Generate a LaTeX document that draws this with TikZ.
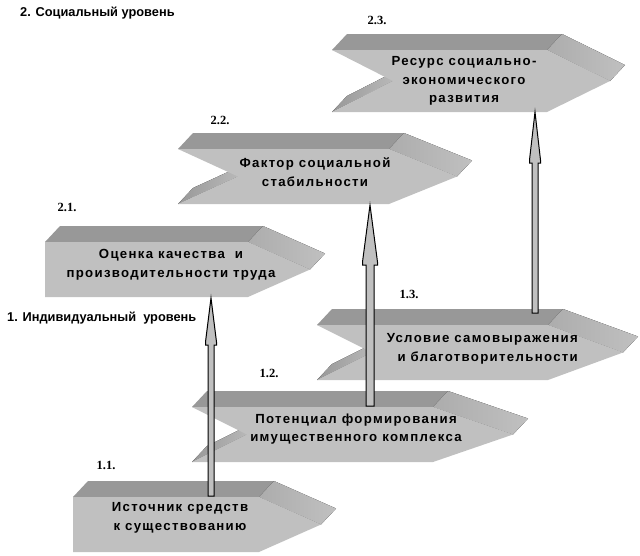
\documentclass[tikz,border=0pt]{standalone}
\usepackage{fontspec}
\setmainfont{Liberation Sans}
\newfontfamily\boxfont[LetterSpace=10]{Liberation Sans}
\newfontfamily\numfont{Liberation Serif}
\usetikzlibrary{calc}
\definecolor{cfront}{RGB}{192,192,192}
\definecolor{ctop}{RGB}{152,152,152}
\definecolor{cside}{RGB}{176,176,176}
\definecolor{cnotch}{RGB}{165,165,165}
\definecolor{carrow}{RGB}{192,192,192}
\tikzset{
  frontface/.style={fill=cfront},
  topface/.style={fill=ctop},
  sideface/.style={left color=cside!85!ctop,right color=cside!80!white},
  notchface/.style={left color=ctop,right color=cnotch!70!white},
  boxtext/.style={font=\boxfont\bfseries\fontsize{13.2}{18.5}\selectfont,align=center,inner sep=0pt},
  leveltext/.style={font=\bfseries\fontsize{12.8}{14}\selectfont,inner sep=0pt,anchor=west},
  numtext/.style={font=\numfont\bfseries\fontsize{12.5}{14}\selectfont,inner sep=0pt},
  arrowbody/.style={draw=black,fill=carrow,line width=1pt,line join=miter},
}
\def\dx{15}
\def\dy{16}
% #1 L, #2 T, #3 B, #4 R, #5 P (tip), #6 N (notch depth), #7 name
\newcommand\chev[7]{%
  \pgfmathsetmacro\Mid{(#2+#3)/2}%
  \fill[topface] (#1,#2) -- (#1+\dx,#2-\dy) -- (#4+\dx,#2-\dy) -- (#4,#2) -- cycle;
  \fill[sideface] (#4,#2) -- (#4+\dx,#2-\dy) -- (#5+\dx,\Mid-\dy) -- (#5,\Mid) -- cycle;
  \ifdim #6pt>0pt
    \fill[notchface] (#1,#3) -- (#1+\dx,#3-\dy) -- (#1+#6+\dx,\Mid-\dy) -- (#1+#6,\Mid) -- cycle;
  \fi
  \fill[frontface] (#1,#2) -- (#4,#2) -- (#5,\Mid) -- (#4,#3) -- (#1,#3) -- (#1+#6,\Mid) -- cycle;
}
% #1 start, #2 end, #3 half shaft, #4 half head, #5 head length
\newcommand\blockarrow[5]{%
  \draw[arrowbody] ($(#1)+(-#3,0)$) -- ($(#2)+(-#3,#5)$) -- ($(#2)+(-#4,#5)$)
    -- ($(#2)+(-#4,#5-3)$) -- (#2) -- ($(#2)+(#4,#5-3)$) -- ($(#2)+(#4,#5)$)
    -- ($(#2)+(#3,#5)$) -- ($(#1)+(#3,0)$) -- cycle;
}
\begin{document}
\begin{tikzpicture}[x=1pt,y=-1pt]
\useasboundingbox (0,0) rectangle (640,555);
% shapes
\chev{332}{50}{112}{547}{610}{61}{s23}
\chev{178}{149}{204}{389}{457}{60}{s22}
\chev{45}{242}{297}{248}{310}{0}{s21}
\chev{317}{325}{380}{548}{623}{55}{s13}
\chev{192}{407}{462}{433}{513}{55}{s12}
\chev{73}{497}{552}{259}{321}{0}{s11}
% texts in shapes
\node[boxtext] (t23) at (464,81) {Ресурс социально-\\экономического\\развития};
\node[boxtext] (t22) at (315,172) {Фактор социальной\\стабильности};
\node[boxtext] (t21) at (171,265) {Оценка качества\ \ и\\производительности труда};
\node[boxtext,align=right,anchor=east] (t13) at (578,349) {Условие самовыражения\\и благотворительности};
\node[boxtext] (t12) at (356,429) {Потенциал формирования\\имущественного комплекса};
\node[boxtext] (t11) at (180,518) {Источник средств\\к существованию};
% level labels
\node[leveltext] (lev2) at (20,13) {2. Социальный уровень};
\node[leveltext] (lev1) at (7,318) {1. Индивидуальный\ \ уровень};
% numbers
\node[numtext] (n23) at (377,20) {2.3.};
\node[numtext] (n22) at (220,120) {2.2.};
\node[numtext] (n21) at (67,207) {2.1.};
\node[numtext] (n13) at (409,294) {1.3.};
\node[numtext] (n12) at (269,373) {1.2.};
\node[numtext] (n11) at (106,465) {1.1.};
% arrow end points
\coordinate (a1s) at (211,496);
\coordinate (a1e) at (211,298);
\coordinate (a2s) at (370,406);
\coordinate (a2e) at (370,205);
\coordinate (a3s) at (535,313);
\coordinate (a3e) at (535,112);
\blockarrow{a1s}{a1e}{3}{5.5}{47}
\blockarrow{a2s}{a2e}{4}{7.5}{60}
\blockarrow{a3s}{a3e}{3}{5.5}{51}
\end{tikzpicture}
\end{document}
